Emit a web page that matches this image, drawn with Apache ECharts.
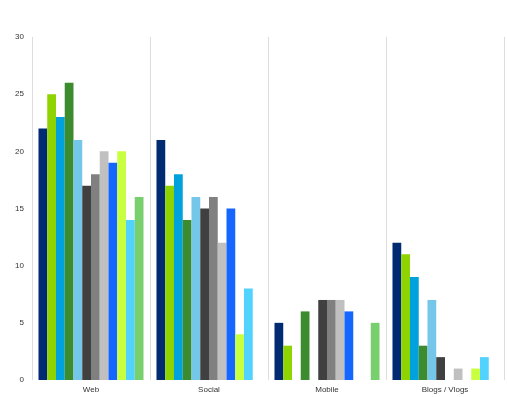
<!DOCTYPE html>
<html>
<head>
<meta charset="utf-8">
<script src="https://cdn.jsdelivr.net/npm/echarts@6/dist/echarts.min.js"></script>
<style>
  html, body { margin: 0; padding: 0; background: #fff; }
  #chart { width: 507px; height: 397px; }
</style>
</head>
<body>
<div id="chart"></div>
<script>
  var categories = ['Web', 'Social', 'Mobile', 'Blogs / Vlogs']
  var colors = ['#002a72', '#8fd400', '#00a2dd', '#3d8b2f', '#74c7e8', '#404040',
    '#808080', '#c0c0c0', '#1565ff', '#c8ff40', '#52d3ff', '#78cf6e']
  // one array per series, values for Web, Social, Mobile, Blogs / Vlogs
  var s1 = [22, 21, 5, 12]
  var s2 = [25, 17, 3, 11]
  var s3 = [23, 18, 0, 9]
  var s4 = [26, 14, 6, 3]
  var s5 = [21, 16, 0, 7]
  var s6 = [17, 15, 7, 2]
  var s7 = [18, 16, 7, 0]
  var s8 = [20, 12, 7, 1]
  var s9 = [19, 15, 6, 0]
  var s10 = [20, 4, 0, 1]
  var s11 = [14, 8, 0, 2]
  var s12 = [16, 0, 5, 0]
  var seriesData = [s1, s2, s3, s4, s5, s6, s7, s8, s9, s10, s11, s12]

  var chart = echarts.init(document.getElementById('chart'))
  var series = []
  seriesData.map(function (data, i) {
    series.push({
      type: 'bar',
      data: data,
      barGap: '0%',
      barCategoryGap: '11%',
      itemStyle: { color: colors[i] }
    })
  })

  chart.setOption({
    animation: false,
    backgroundColor: '#fff',
    grid: { left: 32, right: 3, top: 37, bottom: 17 },
    xAxis: {
      type: 'category',
      data: categories,
      axisLine: { show: false },
      axisTick: { show: false },
      axisLabel: { color: '#333', fontSize: 8, fontFamily: 'Liberation Sans', margin: 6 },
      splitLine: { show: true, lineStyle: { color: '#dddddd', width: 1 } }
    },
    yAxis: {
      type: 'value',
      min: 0,
      max: 30,
      interval: 5,
      axisLine: { show: false },
      axisTick: { show: false },
      splitLine: { show: false },
      axisLabel: { color: '#333', fontSize: 8, fontFamily: 'Liberation Sans', margin: 8 }
    },
    series: series
  })
</script>
</body>
</html>
